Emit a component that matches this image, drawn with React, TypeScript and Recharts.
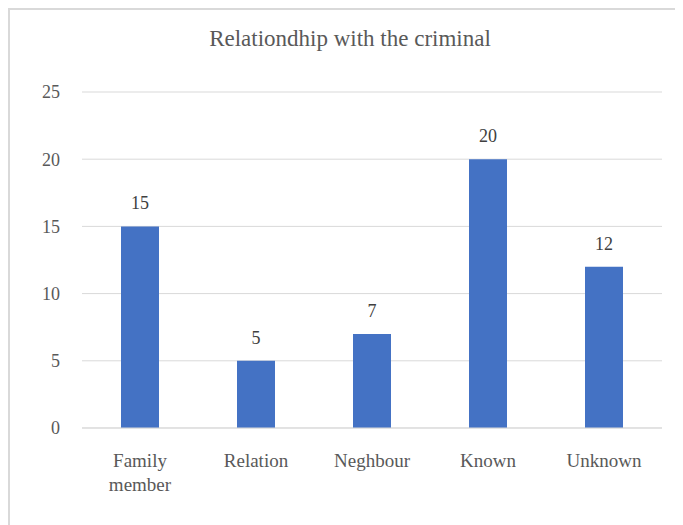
import { BarChart, Bar, XAxis, YAxis, CartesianGrid, LabelList, Text } from 'recharts'

const categories = ['Family member', 'Relation', 'Neghbour', 'Known', 'Unknown']
const counts = [15, 5, 7, 20, 12]
const yTicks = [0, 5, 10, 15, 20, 25]

const data = categories.map((name, i) => ({ name, value: counts[i] }))

const FONT = "'Times New Roman', 'Liberation Serif', serif"

function CategoryTick(props: any) {
  const { x, y, payload } = props
  return (
    <Text
      x={x}
      y={y}
      width={90}
      textAnchor="middle"
      verticalAnchor="start"
      fill="#595959"
      fontSize={19}
      fontFamily={FONT}
      lineHeight={24}
    >
      {payload.value}
    </Text>
  )
}

export default function App() {
  return (
    <div style={{ position: 'relative', width: 690, height: 530, border: '2px solid #d9d9d9', background: '#fff', fontFamily: FONT }}>
      <div
        style={{
          position: 'absolute', left: 0, width: 680, top: 16, textAlign: 'center',
          fontFamily: FONT, fontSize: 23, color: '#595959',
        }}
      >
        Relationdhip with the criminal
      </div>
      <BarChart width={680} height={520} data={data} margin={{ top: 82, right: 28, bottom: 42, left: 22 }}>
        <CartesianGrid vertical={false} stroke="#d9d9d9" strokeWidth={1} />
        <XAxis
          dataKey="name"
          tickLine={false}
          axisLine={{ stroke: '#d9d9d9' }}
          tick={<CategoryTick />}
          tickMargin={20}
          height={60}
          interval={0}
        />
        <YAxis
          domain={[0, 25]}
          ticks={yTicks}
          tickLine={false}
          axisLine={false}
          width={50}
          tickMargin={16}
          tick={{ fill: '#595959', fontSize: 18, fontFamily: FONT }}
        />
        <Bar dataKey="value" fill="#4472c4" barSize={38} isAnimationActive={false}>
          <LabelList dataKey="value" position="top" offset={17} fill="#404040" fontSize={18} fontFamily={FONT} />
        </Bar>
      </BarChart>
    </div>
  )
}
